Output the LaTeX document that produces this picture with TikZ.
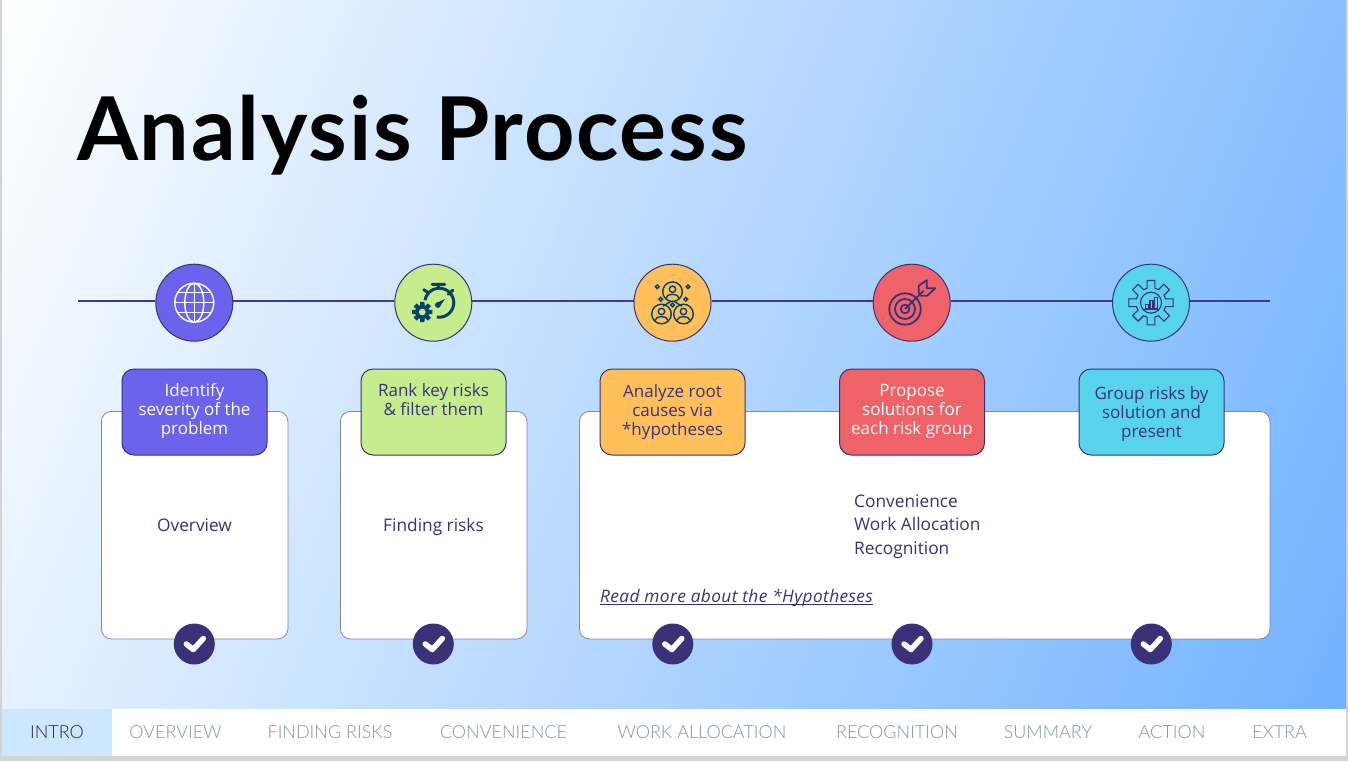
\documentclass[tikz,border=0pt]{standalone}
\usepackage{fontspec}
\setmainfont{Open Sans}
\newfontfamily\titlefont[LetterSpace=2.0]{Lato}
\newfontfamily\linkfont[LetterSpace=2.2]{Open Sans}
\newfontfamily\tabfont{Lato Light}
\definecolor{ink}{HTML}{3A3179}
\definecolor{linec}{HTML}{3E3A8C}
\definecolor{teal}{HTML}{04426A}
\definecolor{cA}{HTML}{6C63EC}
\definecolor{cB}{HTML}{C5ED8D}
\definecolor{cC}{HTML}{FFC05C}
\definecolor{cD}{HTML}{EF6368}
\definecolor{cE}{HTML}{58D3EC}
\definecolor{tabgrey}{HTML}{84949F}
\tikzset{
 disc/.style={circle,draw=ink,line width=1pt,minimum size=77pt,inner sep=0pt},
 tagbox/.style={rounded corners=12pt,draw=ink,line width=1pt,minimum width=145pt,minimum height=86pt,inner sep=0pt},
 card/.style={rounded corners=10pt,draw=ink!60,line width=.8pt,fill=white,inner sep=0pt},
 tagtext/.style={align=center,font=\fontsize{17}{19}\selectfont,inner sep=0pt},
 bodytext/.style={text=ink,font=\fontsize{17.3}{23.5}\selectfont,inner sep=0pt},
 tabtext/.style={font=\tabfont\fontsize{18}{20}\selectfont,text=tabgrey,inner sep=0pt},
 okdisc/.style={circle,fill=ink,minimum size=41pt,inner sep=0pt},
 tick/.style={draw=white,line width=5.5pt,line cap=round,line join=round},
 rail/.style={draw=linec,line width=1.3pt},
}
\newcommand{\okmark}[2]{\node[okdisc] (#1) at (#2,644) {};
 \draw[tick] ([shift={(-8,0)}]#1.center) -- ([shift={(-1,5.5)}]#1.center) -- ([shift={(9,-5.5)}]#1.center);}
\newcommand{\gearshape}[5]{% r1 r2 a1 a2 n-step
 (-#3:#1) foreach \a in {0,#5,...,359} { -- ({\a-#3}:#1) -- ({\a-#4}:#2) -- ({\a+#4}:#2) -- ({\a+#3}:#1)} -- cycle}
\begin{document}
\begin{tikzpicture}[x=1pt,y=-1pt]
\useasboundingbox (0,0) rectangle (1348,761);
\fill[black!17] (0,0) rectangle (1348,761);
\begin{scope}
 \clip (2,0) rectangle (1346,709);
 \shade[transform canvas={shift={(674pt,-355pt)},rotate=-22},left color=white,right color={rgb,255:red,112;green,178;blue,255}] (-760,-900) rectangle (760,900);
\end{scope}
\fill[white] (2,709) rectangle (1346,756);
\node[fill={rgb,255:red,207;green,230;blue,255},anchor=north west,minimum width=110pt,minimum height=47pt,inner sep=0pt] (tabbg) at (2,709) {};
\node[tabtext,text=black!85] (t1) at (57,732) {INTRO};
\node[tabtext] (t2) at (175.5,732) {OVERVIEW};
\node[tabtext] (t3) at (330,732) {FINDING RISKS};
\node[tabtext] (t4) at (503.5,732) {CONVENIENCE};
\node[tabtext] (t5) at (702,732) {WORK ALLOCATION};
\node[tabtext] (t6) at (897,732) {RECOGNITION};
\node[tabtext] (t7) at (1048,732) {SUMMARY};
\node[tabtext] (t8) at (1172,732) {ACTION};
\node[tabtext] (t9) at (1279.5,732) {EXTRA};
\node[anchor=base west,inner sep=0pt,font=\titlefont\bfseries\fontsize{88}{90}\selectfont] (title) at (77,160) {Analysis Process};
% cards
\node[card,anchor=north west,minimum width=186.5pt,minimum height=227.5pt] (k1) at (101,411) {};
\node[card,anchor=north west,minimum width=186.5pt,minimum height=227.5pt] (k2) at (340,411) {};
\node[card,anchor=north west,minimum width=690.5pt,minimum height=227.5pt] (k3) at (579,411) {};
\node[bodytext] (o1) at (194.5,525) {Overview};
\node[bodytext,anchor=base] (o2) at (433.5,531) {Finding risks};
\node[bodytext,anchor=north west,align=left] (o3) at (854,494.5) {Convenience\\Work Allocation\\Recognition};
\node[bodytext,anchor=base west] (o4) at (600,602.5) {\linkfont\itshape\underline{\smash{Read more about the *Hypotheses}}};
% rail
\coordinate (ls) at (78,301);
\coordinate (le) at (1270,301);
\node[disc,fill=cA] (c1) at (194.3,302.7) {};
\node[disc,fill=cB] (c2) at (433.3,302.7) {};
\node[disc,fill=cC] (c3) at (672.5,302.7) {};
\node[disc,fill=cD] (c4) at (911.7,302.7) {};
\node[disc,fill=cE] (c5) at (1151,302.7) {};
\draw[rail] (ls) -- (c1.west |- ls);
\draw[rail] (c1.east |- ls) -- (c2.west |- ls);
\draw[rail] (c2.east |- ls) -- (c3.west |- ls);
\draw[rail] (c3.east |- ls) -- (c4.west |- ls);
\draw[rail] (c4.east |- ls) -- (c5.west |- ls);
\draw[rail] (c5.east |- ls) -- (le);
% globe
\begin{scope}[shift={(c1.center)},draw=white,line width=1.4pt]
 \draw (0,0) circle (19.5);
 \draw (0,0) ellipse (9.5 and 19.5);
 \draw (0,-19.5) -- (0,19.5) (-19.5,0) -- (19.5,0) (-16.6,-10) -- (16.6,-10) (-16.6,10) -- (16.6,10);
\end{scope}
% stopwatch with gear
\begin{scope}[shift={(c2.center)},draw=teal,line width=3pt]
 \draw (-8.28,-2.52) arc[start angle=190,end angle=460,radius=14.5];
 \draw (5,-18) -- (5,-14);
 \draw[line cap=round] (-1.2,-18.4) -- (11.4,-18.4) (-9.5,-13) -- (-5,-10) (19.5,-12.5) -- (15,-8.5);
 \fill[teal] (11.7,-3.7) -- (3,0.3) -- (6.2,4.2) -- cycle;
 \fill[teal] (4.6,2.3) circle (2.9);
 \begin{scope}[shift={(-11,9.3)}]
  \fill[teal,even odd rule] \gearshape{7}{10.3}{19}{12}{45} (0,0) circle (3.5);
 \end{scope}
\end{scope}
% people
\begin{scope}[shift={(c3.center)},draw=teal,line width=1.4pt]
 \foreach \px/\py in {0/-11,-11/11.3,11/11.3}{
  \begin{scope}[shift={(\px,\py)}]
   \draw (0,0) circle (9.8);
   \draw (0,-2.5) circle (3.2);
   \draw (-6.5,6.5) .. controls (-6,1.2) and (6,1.2) .. (6.5,6.5);
  \end{scope}}
 \foreach \px/\py in {-15.2/-16,15.5/-16,-11.8/-3.4,13.2/-3.4,0/2.3}{\draw (\px,\py) circle (1.9);}
 \draw (-2,-1) -- (-9.5,3.5) (2,-1) -- (9.5,3.5);
\end{scope}
% target
\begin{scope}[shift={(c4.center)},draw=ink,line width=1.8pt]
 \draw (-6.7,6.3) circle (15.7) (-6.7,6.3) circle (10) (-6.7,6.3) circle (4.3);
 \draw (-6.7,6.3) -- (12,-12);
 \draw[line join=round] (7,-10) -- (7,-17) -- (15,-22.5) -- (15,-14.5) -- (23.5,-14.5) -- (15.5,-7) -- (9,-7) -- cycle;
\end{scope}
% gear with chart
\begin{scope}[shift={(c5.center)},draw=ink,line width=1.1pt]
 \draw \gearshape{15}{22.5}{15}{10}{45};
 \draw (0,0) circle (10.5);
 \draw (-5.5,6) rectangle (-2.5,2) (-1,6) rectangle (2,-2) (3.5,6) rectangle (6.5,-5.5);
 \draw (-7,6.5) -- (7,6.5);
\end{scope}
% tag boxes
\node[tagbox,fill=cA] (b1) at (194.5,412) {};
\node[tagbox,fill=cB] (b2) at (433.5,412) {};
\node[tagbox,fill=cC] (b3) at (672.5,412) {};
\node[tagbox,fill=cD] (b4) at (912,412) {};
\node[tagbox,fill=cE] (b5) at (1151.5,412) {};
\node[tagtext,text=white,anchor=north] (l1) at (194.5,383) {Identify\\severity of the\\problem};
\node[tagtext,text=ink,anchor=north] (l2) at (433.5,383) {Rank key risks\\\& filter them};
\node[tagtext,text=ink,anchor=north] (l3) at (672.5,384) {Analyze root\\causes via\\*hypotheses};
\node[tagtext,text=white,anchor=north] (l4) at (912,384) {Propose\\solutions for\\each risk group};
\node[tagtext,text=ink,anchor=north] (l5) at (1151.5,386) {Group risks by\\solution and\\present};
% checks
\okmark{m1}{194.3}
\okmark{m2}{433.3}
\okmark{m3}{672.8}
\okmark{m4}{912}
\okmark{m5}{1151.3}
\end{tikzpicture}
\end{document}
